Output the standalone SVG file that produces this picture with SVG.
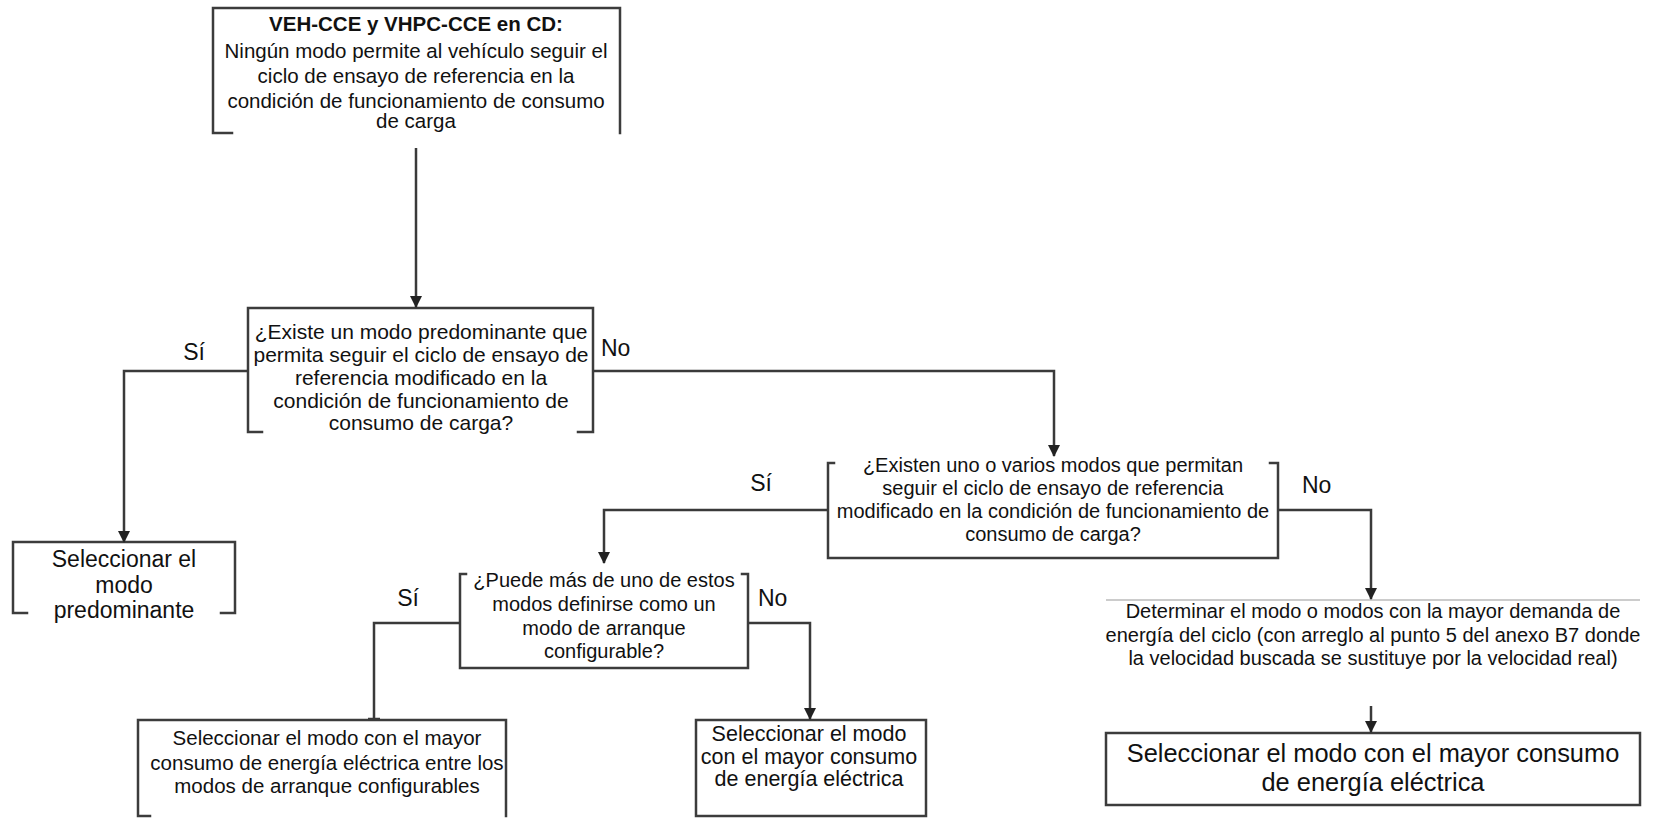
<svg xmlns="http://www.w3.org/2000/svg" width="1659" height="819" viewBox="0 0 1659 819">
<defs>
<style>
text{font-family:"Liberation Sans",Arial,sans-serif;fill:#111;}
.t{text-anchor:middle;}
.b{stroke:#3c3c3c;stroke-width:2.5;fill:none;stroke-linecap:square;}
.c{stroke:#3a3a3a;stroke-width:2.5;fill:none;}
.lbl{font-size:23px;}
</style>
<marker id="ah" viewBox="0 0 12 12" markerWidth="12" markerHeight="12" refX="11" refY="6" orient="auto" markerUnits="userSpaceOnUse">
<path d="M0,0 L12,6 L0,12 z" fill="#222"/>
</marker>
</defs>
<rect width="1659" height="819" fill="#fff"/>

<g id="n1">
<path class="b" d="M213,133 V8 H620 V133 M213,133 H232"/>
<text class="t" x="416" y="31" font-size="20.5" font-weight="bold">VEH-CCE y VHPC-CCE en CD:</text>
<text class="t" x="416" y="58" font-size="20.5">Ningún modo permite al vehículo seguir el</text>
<text class="t" x="416" y="83" font-size="20.5">ciclo de ensayo de referencia en la</text>
<text class="t" x="416" y="108" font-size="20.5">condición de funcionamiento de consumo</text>
<text class="t" x="416" y="128" font-size="20.5">de carga</text>
</g>

<g id="n2">
<path class="b" d="M262,432 H248 V308 H593 V432 H578"/>
<text class="t" x="421" y="339" font-size="21">¿Existe un modo predominante que</text>
<text class="t" x="421" y="362" font-size="21">permita seguir el ciclo de ensayo de</text>
<text class="t" x="421" y="385" font-size="21">referencia modificado en la</text>
<text class="t" x="421" y="408" font-size="21">condición de funcionamiento de</text>
<text class="t" x="421" y="430" font-size="21">consumo de carga?</text>
</g>

<g id="n3">
<path class="b" d="M27,613 H13 V542 H235 V613 H221"/>
<text class="t" x="124" y="567" font-size="23">Seleccionar el</text>
<text class="t" x="124" y="593" font-size="23">modo</text>
<text class="t" x="124" y="618" font-size="23">predominante</text>
</g>

<g id="n4">
<path class="b" d="M834,463 H828 V558 H1278 V463 H1270"/>
<text class="t" x="1053" y="472" font-size="20">¿Existen uno o varios modos que permitan</text>
<text class="t" x="1053" y="495" font-size="20">seguir el ciclo de ensayo de referencia</text>
<text class="t" x="1053" y="518" font-size="20">modificado en la condición de funcionamiento de</text>
<text class="t" x="1053" y="541" font-size="20">consumo de carga?</text>
</g>

<g id="n5">
<path class="b" d="M466,574 H460 V668 H748 V574 H742"/>
<text class="t" x="604" y="587" font-size="20">¿Puede más de uno de estos</text>
<text class="t" x="604" y="611" font-size="20">modos definirse como un</text>
<text class="t" x="604" y="635" font-size="20">modo de arranque</text>
<text class="t" x="604" y="658" font-size="20">configurable?</text>
</g>

<g id="n6">
<path class="b" d="M150,816 H138 V720 H506 V816"/>
<text class="t" x="327" y="745" font-size="20.5">Seleccionar el modo con el mayor</text>
<text class="t" x="327" y="770" font-size="20.5">consumo de energía eléctrica entre los</text>
<text class="t" x="327" y="793" font-size="20.5">modos de arranque configurables</text>
</g>

<g id="n7">
<rect class="b" x="696" y="720" width="230" height="96"/>
<text class="t" x="809" y="741" font-size="21.5">Seleccionar el modo</text>
<text class="t" x="809" y="764" font-size="21.5">con el mayor consumo</text>
<text class="t" x="809" y="786" font-size="21.5">de energía eléctrica</text>
</g>

<g id="n8">
<line x1="1106" y1="600" x2="1640" y2="600" stroke="#999" stroke-width="1.2"/>
<text class="t" x="1373" y="618" font-size="20">Determinar el modo o modos con la mayor demanda de</text>
<text class="t" x="1373" y="642" font-size="20">energía del ciclo (con arreglo al punto 5 del anexo B7 donde</text>
<text class="t" x="1373" y="665" font-size="20">la velocidad buscada se sustituye por la velocidad real)</text>
</g>

<g id="n9">
<rect class="b" x="1106" y="733" width="534" height="72"/>
<text class="t" x="1373" y="762" font-size="25.4">Seleccionar el modo con el mayor consumo</text>
<text class="t" x="1373" y="791" font-size="25.4">de energía eléctrica</text>
</g>

<g id="connectors">
<path class="c" d="M416,148 V307" marker-end="url(#ah)"/>
<path class="c" d="M248,371 H124 V542" marker-end="url(#ah)"/>
<path class="c" d="M593,371 H1054 V456" marker-end="url(#ah)"/>
<path class="c" d="M828,510 H604 V563" marker-end="url(#ah)"/>
<path class="c" d="M1278,510 H1371 V599" marker-end="url(#ah)"/>
<path class="c" d="M1371,706 V732" marker-end="url(#ah)"/>
<path class="c" d="M460,623 H374 V719 M368,719 H380"/>
<path class="c" d="M748,623 H810 V719" marker-end="url(#ah)"/>
<text class="lbl" x="194" y="360" text-anchor="middle">Sí</text>
<text class="lbl" x="601" y="356">No</text>
<text class="lbl" x="761" y="491" text-anchor="middle">Sí</text>
<text class="lbl" x="1302" y="493">No</text>
<text class="lbl" x="408" y="606" text-anchor="middle">Sí</text>
<text class="lbl" x="758" y="606">No</text>
</g>
</svg>
